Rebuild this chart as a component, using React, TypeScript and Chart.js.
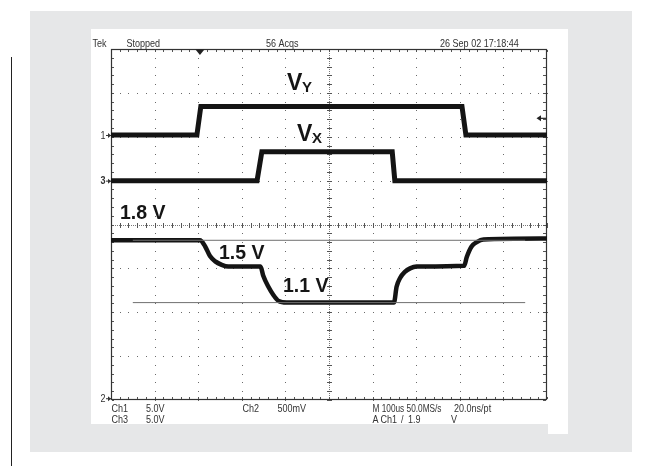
import React, { useEffect, useRef } from 'react';
import { Chart, registerables } from 'chart.js';

Chart.register(...registerables);

const W = 649;
const H = 468;

// Time axis: 100 us/div, 10 divisions (microseconds)
const timeMin = -500;
const timeMax = 500;

// Channel 1 (V_Y), 5.0 V/div
const ch1Time = [-500, -303, -294, 305, 314, 500];
const ch1Volt = [0, 0, 3.25, 3.25, 0, 0];

// Channel 3 (V_X), 5.0 V/div
const ch3Time = [-500, -165, -154, 145, 151, 500];
const ch3Volt = [0, 0, 3.3, 3.3, 0, 0];

// Channel 2 (supply voltage), 500 mV/div
const ch2Time = [
  -500, -296, -284, -273, -261, -246, -231, -157,
  -151, -139, -128, -116, -97, 149,
  155, 163, 174, 186, 201, 310,
  316, 327, 339, 354, 500,
];
const ch2Volt = [
  1.8, 1.8, 1.73, 1.62, 1.56, 1.52, 1.5, 1.5,
  1.4, 1.27, 1.18, 1.11, 1.09, 1.09,
  1.27, 1.37, 1.44, 1.48, 1.5, 1.51,
  1.61, 1.73, 1.78, 1.81, 1.82,
];

// Reference lines
const refTime = [-450, 450];
const ref18 = [1.8, 1.8];
const ref11 = [1.09, 1.09];

// Trigger
const triggerTime = -296;
const triggerLevel = 1.9;

// Texts
const headerTexts = ['Tek', 'Stopped', '56 Acqs', '26 Sep 02 17:18:44'];
const footerRow1 = ['Ch1', '5.0V', 'Ch2', '500mV', 'M 100us 50.0MS/s', '20.0ns/pt'];
const footerRow2 = ['Ch3', '5.0V', 'A', 'Ch1', '/', '1.9', 'V'];
const levelLabels = ['1.8 V', '1.5 V', '1.1 V'];

const toPts = (t: number[], v: number[]) => t.map((x, i) => ({ x, y: v[i] }));

const FONT = '"Liberation Sans", Arial, sans-serif';

function smallText(ctx: CanvasRenderingContext2D, s: string, x: number, y: number, maxW?: number) {
  ctx.save();
  ctx.translate(x, y);
  ctx.scale(0.86, 1);
  ctx.font = `10.5px ${FONT}`;
  ctx.textBaseline = 'alphabetic';
  ctx.textAlign = 'left';
  if (maxW) ctx.fillText(s, 0, 0, maxW / 0.86);
  else ctx.fillText(s, 0, 0);
  ctx.restore();
}

const decor = {
  id: 'decor',
  beforeDraw(chart: any) {
    const ctx: CanvasRenderingContext2D = chart.ctx;
    ctx.save();
    ctx.fillStyle = '#ffffff';
    ctx.fillRect(0, 0, W, H);
    ctx.fillStyle = '#e6e7e8';
    ctx.fillRect(30, 11, 602, 441);
    ctx.fillStyle = '#ffffff';
    ctx.fillRect(91, 29, 477, 395);
    ctx.fillRect(548, 424, 20, 10);
    ctx.fillStyle = '#222';
    ctx.fillRect(11, 57, 1, 409);

    // header
    ctx.fillStyle = '#333';
    smallText(ctx, headerTexts[0], 92.5, 46.5);
    smallText(ctx, headerTexts[1], 126.5, 46.5);
    smallText(ctx, headerTexts[2], 266, 46.5);
    smallText(ctx, headerTexts[3], 440, 46.5);
    // footer
    smallText(ctx, footerRow1[0], 111.5, 411.5);
    smallText(ctx, footerRow1[1], 146, 411.5);
    smallText(ctx, footerRow1[2], 242.5, 411.5);
    smallText(ctx, footerRow1[3], 277.5, 411.5);
    smallText(ctx, footerRow1[4], 372.5, 411.5, 69);
    smallText(ctx, footerRow1[5], 454, 411.5);
    smallText(ctx, footerRow2[0], 111.5, 423);
    smallText(ctx, footerRow2[1], 146, 423);
    smallText(ctx, footerRow2[2], 372.5, 423);
    smallText(ctx, footerRow2[3], 380.5, 423);
    smallText(ctx, footerRow2[4], 401, 423);
    smallText(ctx, footerRow2[5], 408, 423);
    smallText(ctx, footerRow2[6], 451, 423);

    // grid
    const { left, right, top, bottom } = chart.chartArea;
    const xs = chart.scales.x;
    const ys = chart.scales.y;
    const R = Math.round;
    ctx.fillStyle = '#6a6a6a';
    for (let k = -4; k <= 4; k++) {
      if (k === 0) continue;
      const px = R(xs.getPixelForValue(k * 100));
      for (let j = 0; j <= 40; j++) {
        const py = R(ys.getPixelForValue(-4 + j * 0.2));
        ctx.fillRect(px, py, 1, 1);
      }
    }
    for (let m = -3; m <= 3; m++) {
      if (m === 0) continue;
      const py = R(ys.getPixelForValue(m));
      for (let i = 0; i <= 50; i++) {
        const px = R(xs.getPixelForValue(timeMin + i * 20));
        ctx.fillRect(px, py, 1, 1);
      }
    }
    // center crosshair
    const cx = R(xs.getPixelForValue(0));
    const cy = R(ys.getPixelForValue(0));
    ctx.fillStyle = '#777';
    for (let y = R(top); y <= bottom; y += 2) ctx.fillRect(cx, y, 1, 1);
    for (let x = R(left); x <= right; x += 2) ctx.fillRect(x, cy, 1, 1);
    ctx.fillStyle = '#555';
    for (let j = 0; j <= 40; j++) {
      const py = R(ys.getPixelForValue(-4 + j * 0.2));
      ctx.fillRect(cx - 2, py, 5, 1);
      ctx.fillRect(R(left) + 1, py, 2, 1);
      ctx.fillRect(R(right) - 4, py, 3, 1);
    }
    for (let i = 0; i <= 50; i++) {
      const px = R(xs.getPixelForValue(timeMin + i * 20));
      ctx.fillRect(px, cy - 2, 1, 5);
      ctx.fillRect(px, R(top) + 1, 1, 2);
      ctx.fillRect(px, R(bottom) - 3, 1, 2);
    }
    // border
    ctx.strokeStyle = '#333';
    ctx.lineWidth = 1.2;
    ctx.strokeRect(R(left) + 0.5, R(top) + 0.5, R(right) - R(left) - 1, R(bottom) - R(top) - 1);
    ctx.restore();
  },
  afterDatasetsDraw(chart: any) {
    const ctx: CanvasRenderingContext2D = chart.ctx;
    const xs = chart.scales.x;
    ctx.save();
    ctx.fillStyle = '#151515';
    ctx.textBaseline = 'alphabetic';
    ctx.textAlign = 'left';
    // V_Y
    ctx.font = `bold 23px ${FONT}`;
    ctx.fillText('V', 287, 90);
    ctx.font = `bold 15px ${FONT}`;
    ctx.fillText('Y', 302, 91.5);
    // V_X
    ctx.font = `bold 23px ${FONT}`;
    ctx.fillText('V', 297, 140.5);
    ctx.font = `bold 15px ${FONT}`;
    ctx.fillText('X', 312, 143);
    // level labels
    ctx.font = `bold 19.5px ${FONT}`;
    ctx.fillText(levelLabels[0], 120, 219);
    ctx.fillText(levelLabels[1], 219, 258.5);
    ctx.fillText(levelLabels[2], 283, 292);

    // trigger position marker
    const tx = xs.getPixelForValue(triggerTime);
    ctx.fillStyle = '#222';
    ctx.beginPath();
    ctx.moveTo(tx - 4.5, 49.5);
    ctx.lineTo(tx + 4.5, 49.5);
    ctx.lineTo(tx, 55);
    ctx.closePath();
    ctx.fill();

    // trigger level arrow
    const ty = chart.scales.y1.getPixelForValue(triggerLevel);
    ctx.strokeStyle = '#222';
    ctx.lineWidth = 1.2;
    ctx.beginPath();
    ctx.moveTo(539, ty);
    ctx.lineTo(546, ty);
    ctx.stroke();
    ctx.beginPath();
    ctx.moveTo(536.5, ty);
    ctx.lineTo(541, ty - 3);
    ctx.lineTo(541, ty + 3);
    ctx.closePath();
    ctx.fill();

    // ground markers
    const marks: [string, number][] = [
      ['1', chart.scales.y1.getPixelForValue(0)],
      ['3', chart.scales.y3.getPixelForValue(0)],
      ['2', chart.scales.y2.getPixelForValue(0)],
    ];
    ctx.fillStyle = '#333';
    ctx.strokeStyle = '#333';
    for (const [lab, y] of marks) {
      ctx.save();
      ctx.translate(100.5, y + 3.8);
      ctx.scale(0.86, 1);
      ctx.font = `${lab === '3' ? 'bold ' : ''}10.5px ${FONT}`;
      ctx.fillText(lab, 0, 0);
      ctx.restore();
      ctx.lineWidth = 1;
      ctx.beginPath();
      ctx.moveTo(106, y + 0.5);
      ctx.lineTo(111, y + 0.5);
      ctx.stroke();
      ctx.beginPath();
      ctx.moveTo(111, y + 0.5);
      ctx.lineTo(108, y - 2);
      ctx.lineTo(108, y + 3);
      ctx.closePath();
      ctx.fill();
    }
    ctx.restore();
  },
};

export default function App() {
  const ref = useRef<HTMLCanvasElement | null>(null);
  useEffect(() => {
    const canvas = ref.current;
    if (!canvas) return;
    const chart = new Chart(canvas, {
      type: 'line',
      data: {
        datasets: [
          {
            data: toPts(refTime, ref18),
            yAxisID: 'y2',
            borderColor: '#707070',
            borderWidth: 1,
            pointRadius: 0,
          },
          {
            data: toPts(refTime, ref11),
            yAxisID: 'y2',
            borderColor: '#707070',
            borderWidth: 1,
            pointRadius: 0,
          },
          {
            data: toPts(ch1Time, ch1Volt),
            yAxisID: 'y1',
            borderColor: '#141414',
            borderWidth: 5,
            pointRadius: 0,
            tension: 0,
          },
          {
            data: toPts(ch3Time, ch3Volt),
            yAxisID: 'y3',
            borderColor: '#141414',
            borderWidth: 5,
            pointRadius: 0,
            tension: 0,
          },
          {
            data: toPts(ch2Time, ch2Volt),
            yAxisID: 'y2',
            borderColor: '#141414',
            borderWidth: 4.5,
            pointRadius: 0,
            cubicInterpolationMode: 'monotone',
          },
        ] as any,
      },
      options: {
        responsive: false,
        animation: false,
        devicePixelRatio: 1,
        events: [],
        layout: { padding: { left: 111, right: W - 547, top: 49, bottom: H - 400 } },
        plugins: { legend: { display: false }, tooltip: { enabled: false } },
        scales: {
          x: { type: 'linear', min: timeMin, max: timeMax, display: false },
          y: { type: 'linear', min: -4, max: 4, display: false },
          y1: { type: 'linear', min: -30.2, max: 9.8, display: false },
          y2: { type: 'linear', min: -0.02, max: 3.98, display: false },
          y3: { type: 'linear', min: -25, max: 15, display: false },
        },
      } as any,
      plugins: [decor],
    });
    return () => chart.destroy();
  }, []);
  return (
    <canvas
      ref={ref}
      width={W}
      height={H}
      style={{ position: 'fixed', left: 0, top: 0, width: W, height: H }}
    />
  );
}
